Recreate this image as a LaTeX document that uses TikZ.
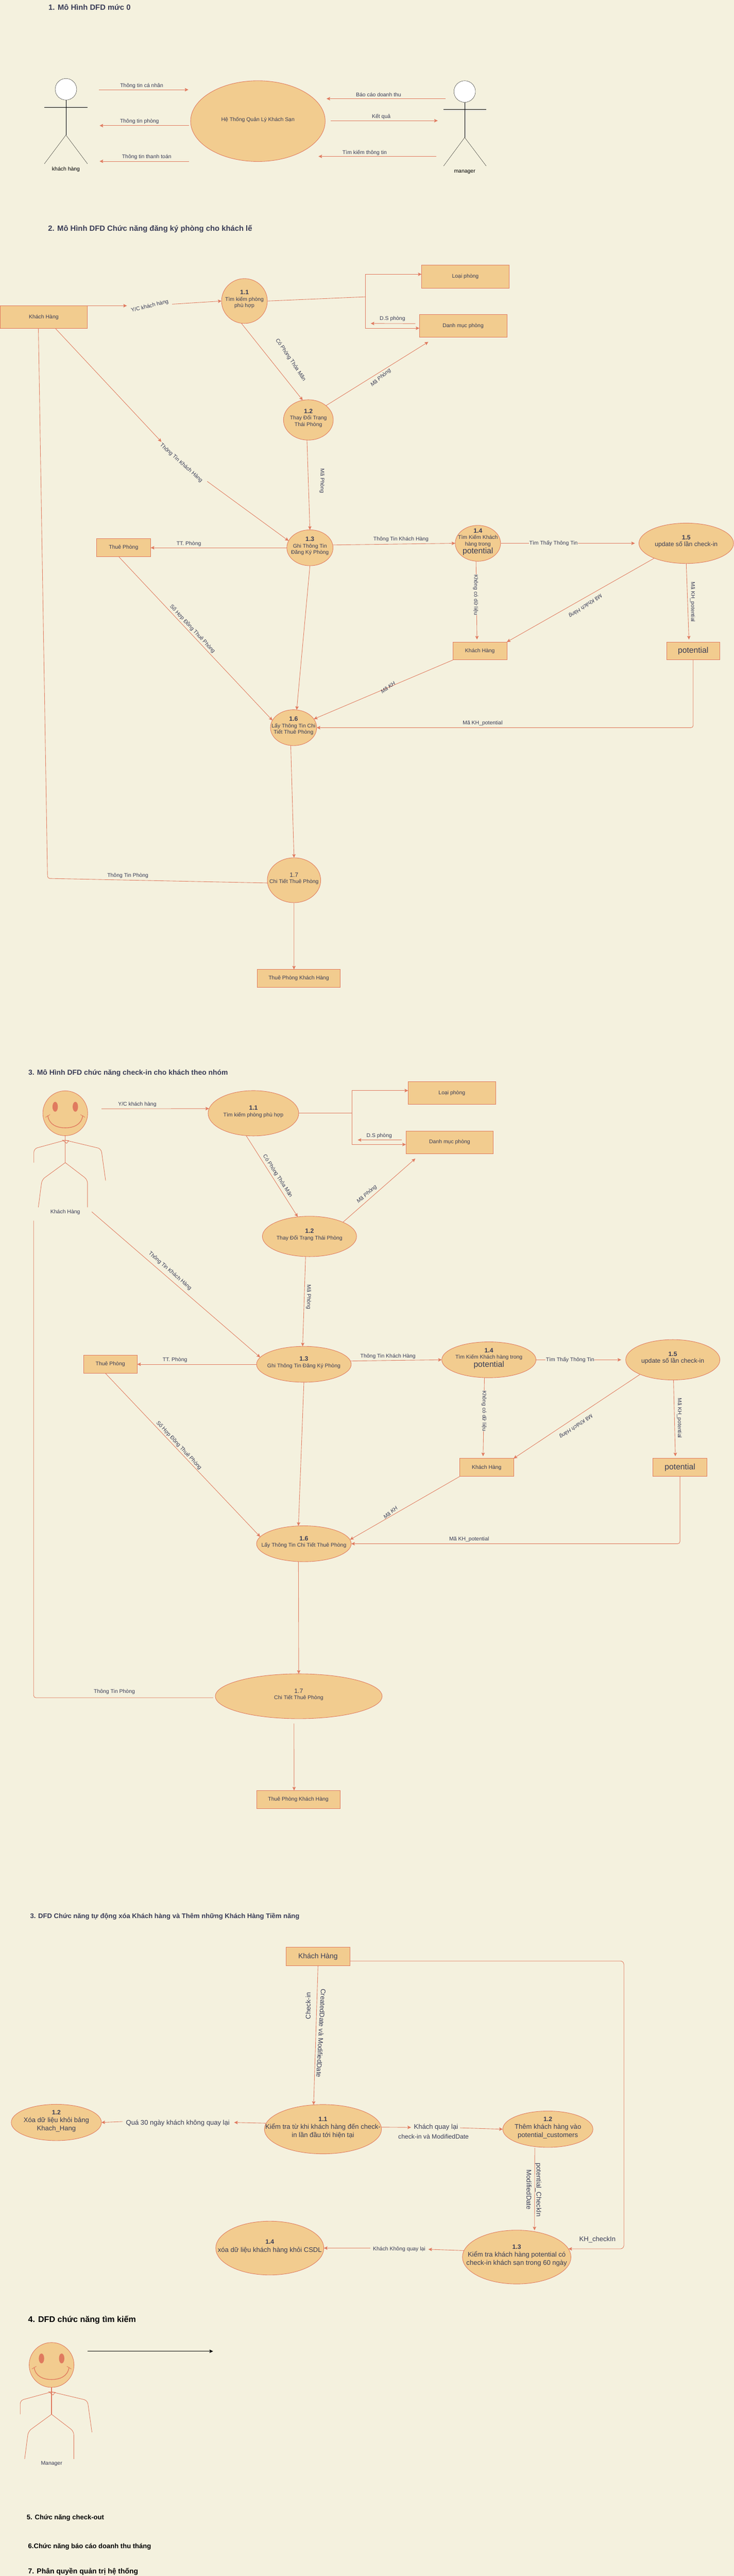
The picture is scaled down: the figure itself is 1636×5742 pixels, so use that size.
\documentclass[tikz,border=0pt]{standalone}
\usepackage{fontspec}
\setmainfont{Liberation Sans}
\usetikzlibrary{arrows.meta,shapes.geometric}
\definecolor{bgc}{HTML}{F4F1DE}
\definecolor{fillc}{HTML}{F2CC8F}
\definecolor{strokec}{HTML}{E07A5F}
\definecolor{fontc}{HTML}{393C56}
\tikzset{
	heading/.style={anchor=west,inner sep=0pt,text=fontc,font=\fontsize{16}{20}\selectfont\bfseries},
	proc/.style={ellipse,draw=strokec,fill=fillc,line width=1pt,inner sep=0pt,outer sep=0pt,text=fontc,font=\fontsize{12}{14.4}\selectfont},
	store/.style={rectangle,draw=strokec,fill=fillc,line width=1pt,inner sep=0pt,outer sep=0pt,text=fontc,font=\fontsize{12}{14.4}\selectfont},
	size/.style 2 args={minimum width=#1pt,minimum height=#2pt},
	flowlabel/.style={inner sep=0pt,text=fontc,font=\fontsize{12}{14.4}\selectfont},
	biglabel/.style={inner sep=0pt,text=fontc,font=\fontsize{15}{18}\selectfont},
	flow/.style={draw=strokec,line width=1pt},
	flowarrow/.style={flow,-{Stealth[length=8pt,width=7.5pt,inset=1.5pt]}},
}
\begin{document}
\begin{tikzpicture}[x=1pt,y=-1pt]
	\newcommand{\mycell}[1]{\raisebox{0pt}[0pt][0pt]{\makebox[0pt]{\begin{tabular}{@{}c@{}}#1\end{tabular}}}}
	\newcommand{\mynum}[1]{{\fontsize{14}{14.4}\selectfont\bfseries #1}}
	\newcommand{\mybig}[1]{{\fontsize{18}{18}\selectfont #1}}
	\newcommand{\mysmiley}[4]{
		\begin{scope}[shift={(#1,#2)}]
			\node[proc,circle,minimum size=100pt] (#3) at (0,0) {};
			\fill[strokec] (-22.5,-14.5) ellipse [x radius=6,y radius=11];
			\fill[strokec] (22.5,-14.5) ellipse [x radius=6,y radius=11];
			\draw[strokec,line width=1.5pt] (-39,5) .. controls (-36,26) and (-18,32.5) .. (0,32.5) .. controls (18,32.5) and (36,26) .. (39,5);
			\draw[flow] (-44,9) -- (-34,3) (44,9) -- (34,3);
			\draw[flow,line width=1.6pt] (#3.south) -- (0,110);
			\draw[flow,rounded corners=8pt] (0,60) -- (-70,79) -- (-70,110);
			\draw[flow,rounded corners=8pt] (0,60) -- (80,79) -- (90,150);
			\draw[flow,rounded corners=8pt] (0,110) -- (-52,148) -- (-60,209.5);
			\draw[flow,rounded corners=8pt] (0,110) -- (49.6,148) -- (49.6,209.5);
			\draw[flow] (-6,60) -- (8,61) -- (3,67) -- cycle;
			\node[flowlabel] (#3label) at (0,220) {#4};
		\end{scope}
	}
	\useasboundingbox (0,0) rectangle (1636,5742);
	\fill[bgc] (0,0) rectangle (1636,5742);
	%Part 1: context diagram
	\node[heading,font=\fontsize{17}{20}\selectfont\bfseries] (title1) at (108,16) {1. Mô Hình DFD mức 0};
	\node[proc,size={300}{180}] (sys) at (575,270) {\mycell{Hệ Thống Quản Lý Khách Sạn}};
	%Actor on the left
	\node[circle,draw=black,fill=white,minimum size=48pt,inner sep=0pt,outer sep=0pt] (headA) at (147,199) {};
	\coordinate (hipA) at (147,301);
	\draw (headA.south) -- (hipA);
	\draw (99,238.5) -- (195,238.5);
	\draw (99,365) -- (hipA) -- (195,365);
	\node[flowlabel,text=black] (nameA) at (147,378) {khách hàng};
	%Actor on the right
	\node[circle,draw=black,fill=white,minimum size=48pt,inner sep=0pt,outer sep=0pt] (headB) at (1036,204) {};
	\coordinate (hipB) at (1036,306.5);
	\draw (headB.south) -- (hipB);
	\draw (989,243.5) -- (1084,243.5);
	\draw (989,370) -- (hipB) -- (1084,370);
	\node[flowlabel,text=black] (nameB) at (1036,383) {manager};
	%Flows of part 1
	\coordinate (a1) at (221,200);
	\coordinate (a2) at (420,200);
	\coordinate (a3) at (421,280);
	\coordinate (a4) at (222,280);
	\coordinate (a5) at (421,359.5);
	\coordinate (a6) at (222,359.5);
	\coordinate (a7) at (993,220);
	\coordinate (a8) at (728,220);
	\coordinate (a9) at (737,269);
	\coordinate (a10) at (976,269);
	\coordinate (a11) at (973,348.6);
	\coordinate (a12) at (710,348.6);
	\draw[flowarrow] (a1) -- (a2);
	\draw[flowarrow] (a3) -- (a4);
	\draw[flowarrow] (a5) -- (a6);
	\draw[flowarrow] (a7) -- (a8);
	\draw[flowarrow] (a9) -- (a10);
	\draw[flowarrow] (a11) -- (a12);
	\node[flowlabel] (la1) at (316,191) {Thông tin cá nhân};
	\node[flowlabel] (la2) at (311,271) {Thông tin phòng};
	\node[flowlabel] (la3) at (327,350) {Thông tin thanh toán};
	\node[flowlabel] (la4) at (844,211) {Báo cáo doanh thu};
	\node[flowlabel] (la5) at (850,260) {Kết quả};
	\node[flowlabel] (la6) at (813,340) {Tìm kiếm thông tin};
	%Part 2: registration for single guests
	\node[heading,font=\fontsize{17}{20}\selectfont\bfseries] (title2) at (107,510) {2. Mô Hình DFD Chức năng đăng ký phòng cho khách lế};
	\node[store,size={195}{51}] (kh2) at (97.5,707) {Khách Hàng};
	\node[store,size={195}{51}] (lp2) at (1037.5,616.5) {Loại phòng};
	\node[store,size={195}{51}] (dm2) at (1032.5,726.5) {Danh mục phòng};
	\node[store,size={121}{40}] (tp2) at (275.5,1221) {Thuê Phòng};
	\node[store,size={120}{40}] (khb2) at (1070,1451) {Khách Hàng};
	\node[store,size={119}{40}] (pot2) at (1545.5,1451) {\mybig{potential}};
	\node[store,size={186}{40}] (tpk2) at (666,2181) {Thuê Phòng Khách Hàng};
	\node[proc,size={102}{100}] (p11) at (545,671) {\mycell{\mynum{1.1}\\Tìm kiếm phòng\\phù hợp}};
	\node[proc,size={111}{90}] (p12) at (687.5,936) {\mycell{\mynum{1.2}\\Thay Đổi  Trạng\\Thái Phòng}};
	\node[proc,size={103}{80}] (p13) at (691,1221) {\mycell{\mynum{1.3}\\Ghi Thông Tin\\Đăng Ký Phòng}};
	\node[proc,size={101}{80}] (p14) at (1065.5,1211) {\mycell{\mynum{1.4}\\Tìm Kiếm Khách\\hàng trong\\\mybig{potential}}};
	\node[proc,size={211}{90}] (p15) at (1530,1211) {\mycell{\mynum{1.5}\\{\fontsize{14}{14.4}\selectfont update số lần check-in}}};
	\node[proc,size={103}{80}] (p16) at (654.5,1622) {\mycell{\mynum{1.6}\\Lấy Thông Tin Chi\\Tiết Thuê Phòng}};
	\node[proc,size={119}{100}] (p17) at (655.5,1962) {\mycell{{\fontsize{14}{14.4}\selectfont 1.7}\\Chi Tiết Thuê Phòng}};
	%Flows of part 2
	\coordinate (b1) at (283,681.5);
	\coordinate (b2) at (384,678);
	\coordinate (b3) at (815,661.6);
	\coordinate (b4) at (826.5,721);
	\coordinate (b5) at (955,762);
	\coordinate (b6) at (360,985);
	\coordinate (b7) at (462,1073);
	\coordinate (b8) at (106,1958);
	\draw[flowarrow] (kh2.north east) -- (b1);
	\draw[flowarrow] (b2) -- (p11.west);
	\draw[flow] (p11.east) -- (b3);
	\draw[flowarrow] (b3) |- (lp2.177);
	\draw[flowarrow] (b3) |- (dm2.183);
	\draw[flowarrow,shorten <=9pt] (dm2.177) -- (b4);
	\draw[flowarrow] (p11.262) -- (p12.106);
	\draw[flowarrow] (p12.39) -- (b5);
	\draw[flowarrow] (p12.266) -- (p13.north);
	\draw[flowarrow] (kh2.316) -- (b6);
	\draw[flowarrow] (b7) -- (p13.162);
	\draw[flowarrow] (p13.west) -- (tp2.east);
	\draw[flowarrow] (p13.7) -- (p14.west);
	\draw[flowarrow,shorten >=9pt] (p14.east) -- (p15.west);
	\draw[flowarrow] (p15.205) -- (khb2.north east);
	\draw[flowarrow,shorten >=5.5pt] (p14.264) -- (khb2.108);
	\draw[flowarrow,shorten >=5.5pt] (p15.south) -- (pot2.115);
	\draw[flowarrow] (khb2.south west) -- (p16.23);
	\draw[flowarrow,rounded corners=5pt] (pot2.south) |- (p16.east);
	\draw[flowarrow] (tp2.242) -- (p16.161);
	\draw[flowarrow] (p13.south) -- (p16.80);
	\draw[flowarrow] (p16.261) -- (p17.north);
	\draw[flowarrow] (p17.south) -- (tpk2.118);
	\draw[flow,rounded corners=5pt] (p17.186) -- (b8) -- (kh2.245);
	\node[flowlabel,rotate=14] (lb1) at (334,682.5) {Y/C khách hàng};
	\node[flowlabel] (lb2) at (875,711) {D.S phòng};
	\node[flowlabel,rotate=-56] (lb3) at (648,802) {Có Phòng Thỏa Mãn};
	\node[flowlabel,rotate=40,font=\fontsize{12}{14.4}\selectfont\itshape] (lb4) at (849,842) {Mã Phòng};
	\node[flowlabel,rotate=-90] (lb5) at (718,1072) {Mã Phòng};
	\node[flowlabel,rotate=-42] (lb6) at (404,1032) {Thông  Tin Khách Hàng};
	\node[flowlabel] (lb7) at (421,1212) {TT. Phòng};
	\node[flowlabel] (lb8) at (894,1202) {Thông Tin Khách Hàng};
	\node[flowlabel,fill=bgc,inner xsep=1pt] (lb9) at (1234,1211) {Tìm Thấy Thông Tin};
	\node[flowlabel,rotate=214,font=\fontsize{12}{14.4}\selectfont\itshape] (lb10) at (1305,1350) {Mã Khách Hàng};
	\node[flowlabel,rotate=-90,fill=bgc] (lb11) at (1060.5,1326) {Không có dữ liệu};
	\node[flowlabel,rotate=-90] (lb12) at (1544,1342) {Mã KH\_potential};
	\node[flowlabel,rotate=35,font=\fontsize{12}{14.4}\selectfont\itshape] (lb13) at (865,1532) {Mã KH};
	\node[flowlabel] (lb14) at (1076,1612) {Mã KH\_potential};
	\node[flowlabel,rotate=-47] (lb15) at (429,1402) {Số Hợp Đồng Thuê Phòng};
	\node[flowlabel] (lb16) at (285,1951.5) {Thông Tin Phòng};
	%Part 3: check-in for groups
	\node[heading] (title3) at (63,2392) {3. Mô Hình DFD chức năng check-in cho khách theo nhóm};
	\mysmiley{145.5}{2481.5}{act3}{Khách Hàng}
	\node[store,size={195}{50.5}] (lp3) at (1007.5,2436) {Loại phòng};
	\node[store,size={195}{50.5}] (dm3) at (1002.5,2546) {Danh mục phòng};
	\node[store,size={120}{40}] (tp3) at (246,3041) {Thuê Phòng};
	\node[store,size={120}{40}] (khb3) at (1085,3271) {Khách Hàng};
	\node[store,size={120}{40}] (pot3) at (1516,3271) {\mybig{potential}};
	\node[store,size={186}{40}] (tpk3) at (665,4011) {Thuê Phòng Khách Hàng};
	\node[proc,size={202}{101}] (p31) at (565,2481.5) {\mycell{\mynum{1.1}\\Tìm kiếm phòng phù hợp}};
	\node[proc,size={210}{90}] (p32) at (690,2756) {\mycell{\mynum{1.2}\\Thay Đổi  Trạng Thái Phòng}};
	\node[proc,size={211}{80}] (p33) at (677.5,3041) {\mycell{\mynum{1.3}\\Ghi Thông Tin Đăng Ký Phòng}};
	\node[proc,size={210}{80}] (p34) at (1090,3031) {\mycell{\mynum{1.4}\\Tìm Kiếm Khách hàng trong\\\mybig{potential}}};
	\node[proc,size={210}{90}] (p35) at (1500,3031) {\mycell{\mynum{1.5}\\{\fontsize{14}{14.4}\selectfont update số lần check-in}}};
	\node[proc,size={211}{80}] (p36) at (677.5,3441) {\mycell{\mynum{1.6}\\Lấy Thông Tin Chi Tiết Thuê Phòng}};
	\node[proc,size={372}{100}] (p37) at (666,3781) {\mycell{{\fontsize{14}{14.4}\selectfont 1.7}\\Chi Tiết Thuê Phòng}};
	%Flows of part 3
	\coordinate (c1) at (226.5,2471.5);
	\coordinate (c2) at (785,2481.5);
	\coordinate (c3) at (797.5,2541);
	\coordinate (c4) at (926,2582.5);
	\coordinate (c5) at (204.5,2701);
	\coordinate (c6) at (75,2721);
	\draw[flowarrow] (c1) -- (p31.174);
	\draw[flow] (p31.east) -- (c2);
	\draw[flowarrow] (c2) |- (lp3.177);
	\draw[flowarrow] (c2) |- (dm3.183);
	\draw[flowarrow,shorten <=9.4pt] (dm3.177) -- (c3);
	\draw[flowarrow] (p31.252) -- (p32.121);
	\draw[flowarrow] (p32.23) -- (c4);
	\draw[flowarrow] (p32.259) -- (p33.94);
	\draw[flowarrow] (c5) -- (p33.171);
	\draw[flow,rounded corners=5pt,shorten <=5pt] (p37.181) -| (c6);
	\draw[flowarrow] (p33.west) -- (tp3.east);
	\draw[flowarrow] (p33.4) -- (p34.west);
	\draw[flowarrow,shorten >=10pt] (p34.east) -- (p35.west);
	\draw[flowarrow,shorten >=5pt] (p34.256) -- (khb3.112);
	\draw[flowarrow] (p35.204) -- (khb3.north east);
	\draw[flowarrow,shorten >=5pt] (p35.272) -- (pot3.117);
	\draw[flowarrow] (khb3.south west) -- (p36.5);
	\draw[flowarrow,rounded corners=5pt] (pot3.south) |- (p36.east);
	\draw[flowarrow] (tp3.241) -- (p36.171);
	\draw[flowarrow] (p33.south) -- (p36.107);
	\draw[flowarrow] (p36.253) -- (p37.north);
	\draw[flowarrow,shorten <=11pt] (p37.258) -- (tpk3.115);
	\node[flowlabel] (lc1) at (306,2461.5) {Y/C khách hàng};
	\node[flowlabel] (lc2) at (845.5,2532) {D.S phòng};
	\node[flowlabel,rotate=-57] (lc3) at (619,2621.5) {Có Phòng Thỏa Mãn};
	\node[flowlabel,rotate=41,font=\fontsize{12}{14.4}\selectfont\itshape] (lc4) at (818,2662) {Mã Phòng};
	\node[flowlabel,rotate=-90] (lc5) at (688,2891) {Mã Phòng};
	\node[flowlabel,rotate=-41] (lc6) at (379,2833) {Thông  Tin Khách Hàng};
	\node[flowlabel] (lc7) at (390,3032) {TT. Phòng};
	\node[flowlabel] (lc8) at (865,3023) {Thông Tin Khách Hàng};
	\node[flowlabel,fill=bgc,inner xsep=1pt] (lc9) at (1271,3031) {Tìm Thấy Thông Tin};
	\node[flowlabel,rotate=-90,fill=bgc] (lc10) at (1079,3145) {Không có dữ liệu};
	\node[flowlabel,rotate=214,font=\fontsize{12}{14.4}\selectfont\itshape] (lc11) at (1284,3179) {Mã Khách Hàng};
	\node[flowlabel,rotate=-90] (lc12) at (1514.6,3161) {Mã KH\_potential};
	\node[flowlabel,rotate=40,font=\fontsize{12}{14.4}\selectfont\itshape] (lc13) at (870.5,3371.5) {Mã KH};
	\node[flowlabel] (lc14) at (1046,3431) {Mã KH\_potential};
	\node[flowlabel,rotate=-47] (lc15) at (399,3222) {Số Hợp Đồng Thuê Phòng};
	\node[flowlabel] (lc16) at (255,3771) {Thông Tin Phòng};
	%Part 3b: automatic removal and potential guests
	\node[heading,font=\fontsize{15}{18}\selectfont\bfseries] (title4) at (67,4272) {3. DFD Chức năng tự động xóa Khách hàng và Thêm những Khách Hàng Tiềm năng};
	\node[store,size={142}{40.5},font=\fontsize{16}{18}\selectfont] (kh4) at (709,4361) {Khách Hàng};
	\node[proc,size={261}{110},font=\fontsize{15}{18}\selectfont] (q1) at (720,4746) {\mycell{\mynum{1.1}\\Kiểm tra từ khi khách hàng đến check-\\in lần đầu tới hiện tại}};
	\node[proc,size={201}{81},font=\fontsize{15}{18}\selectfont] (q2) at (125.6,4731) {\mycell{\mynum{1.2}\\Xóa dữ liệu khỏi bảng\\Khach\_Hang}};
	\node[proc,size={201}{81},font=\fontsize{15}{18}\selectfont] (q3) at (1221.5,4746) {\mycell{\mynum{1.2}\\Thêm khách hàng vào\\potential\_customers}};
	\node[proc,size={242}{120},font=\fontsize{15}{18}\selectfont] (q5) at (1152,5031) {\mycell{\mynum{1.3}\\Kiểm tra khách hàng potential có\\check-in khách sạn trong 60 ngày}};
	\node[proc,size={241}{120},font=\fontsize{15}{18}\selectfont] (q4) at (601.5,5011) {\mycell{\mynum{1.4}\\xóa dữ liệu khách hàng khỏi CSDL}};
	%Flows of part 3b
	\coordinate (d1) at (1391,4371);
	\coordinate (d2) at (522,4731);
	\coordinate (d3) at (273.5,4729);
	\coordinate (d4) at (916.5,4742);
	\coordinate (d5) at (1026,4743);
	\coordinate (d6) at (955,5013.7);
	\coordinate (d7) at (825.6,5011);
	\draw[flowarrow] (kh4.south) -- (q1.111);
	\draw[flowarrow,rounded corners=8pt] (kh4.352) -- (d1) |- (q5.9);
	\draw[flowarrow] (q1.174) -- (d2);
	\draw[flowarrow] (d3) -- (q2.east);
	\draw[flowarrow] (q1.2) -- (d4);
	\draw[flowarrow] (d5) -- (q3.west);
	\draw[flowarrow,shorten <=3pt,shorten >=3pt] (q3.233) -- (q5.55);
	\draw[flowarrow] (q5.173) -- (d6);
	\draw[flowarrow] (d7) -- (q4.east);
	\node[biglabel,rotate=90] (ld1) at (687,4471) {Check-in};
	\node[biglabel,rotate=-93] (ld2) at (716,4532) {CreatedDate và ModifiedDate};
	\node[biglabel] (ld3) at (396.5,4732) {Quá 30 ngày khách không quay lại};
	\node[biglabel] (ld4) at (972,4742) {Khách quay lại};
	\node[biglabel,font=\fontsize{14}{18}\selectfont] (ld5) at (966.5,4762) {check-in và ModifiedDate};
	\node[biglabel,rotate=-90] (ld6) at (1200,4881) {potential\_CheckIn};
	\node[biglabel,rotate=-90] (ld7) at (1179.5,4881) {ModifiedDate};
	\node[biglabel] (ld8) at (1332,4992) {KH\_checkIn};
	\node[flowlabel] (ld9) at (890,5013.7) {Khách Không quay lại};
	%Part 4: search
	\node[heading,text=black,font=\fontsize{18.5}{20}\selectfont\bfseries] (title5) at (62.6,5171) {4. DFD chức năng tìm kiếm};
	\mysmiley{115}{5271.5}{act4}{Manager}
	\coordinate (e1) at (195,5241);
	\coordinate (e2) at (475,5241);
	\draw[-{Stealth[length=8pt,width=7.5pt,inset=1.5pt]},line width=1pt] (e1) -- (e2);
	%Remaining headings
	\node[heading,text=black,font=\fontsize{15}{18}\selectfont\bfseries] (title6) at (59.5,5612) {5. Chức năng check-out};
	\node[heading,text=black,font=\fontsize{15}{18}\selectfont\bfseries] (title7) at (62.6,5677) {6.Chức năng báo cáo doanh thu tháng};
	\node[heading,text=black,font=\fontsize{16}{18}\selectfont\bfseries] (title8) at (62.6,5732) {7. Phân quyền quản trị hệ thống};
\end{tikzpicture}
\end{document}
